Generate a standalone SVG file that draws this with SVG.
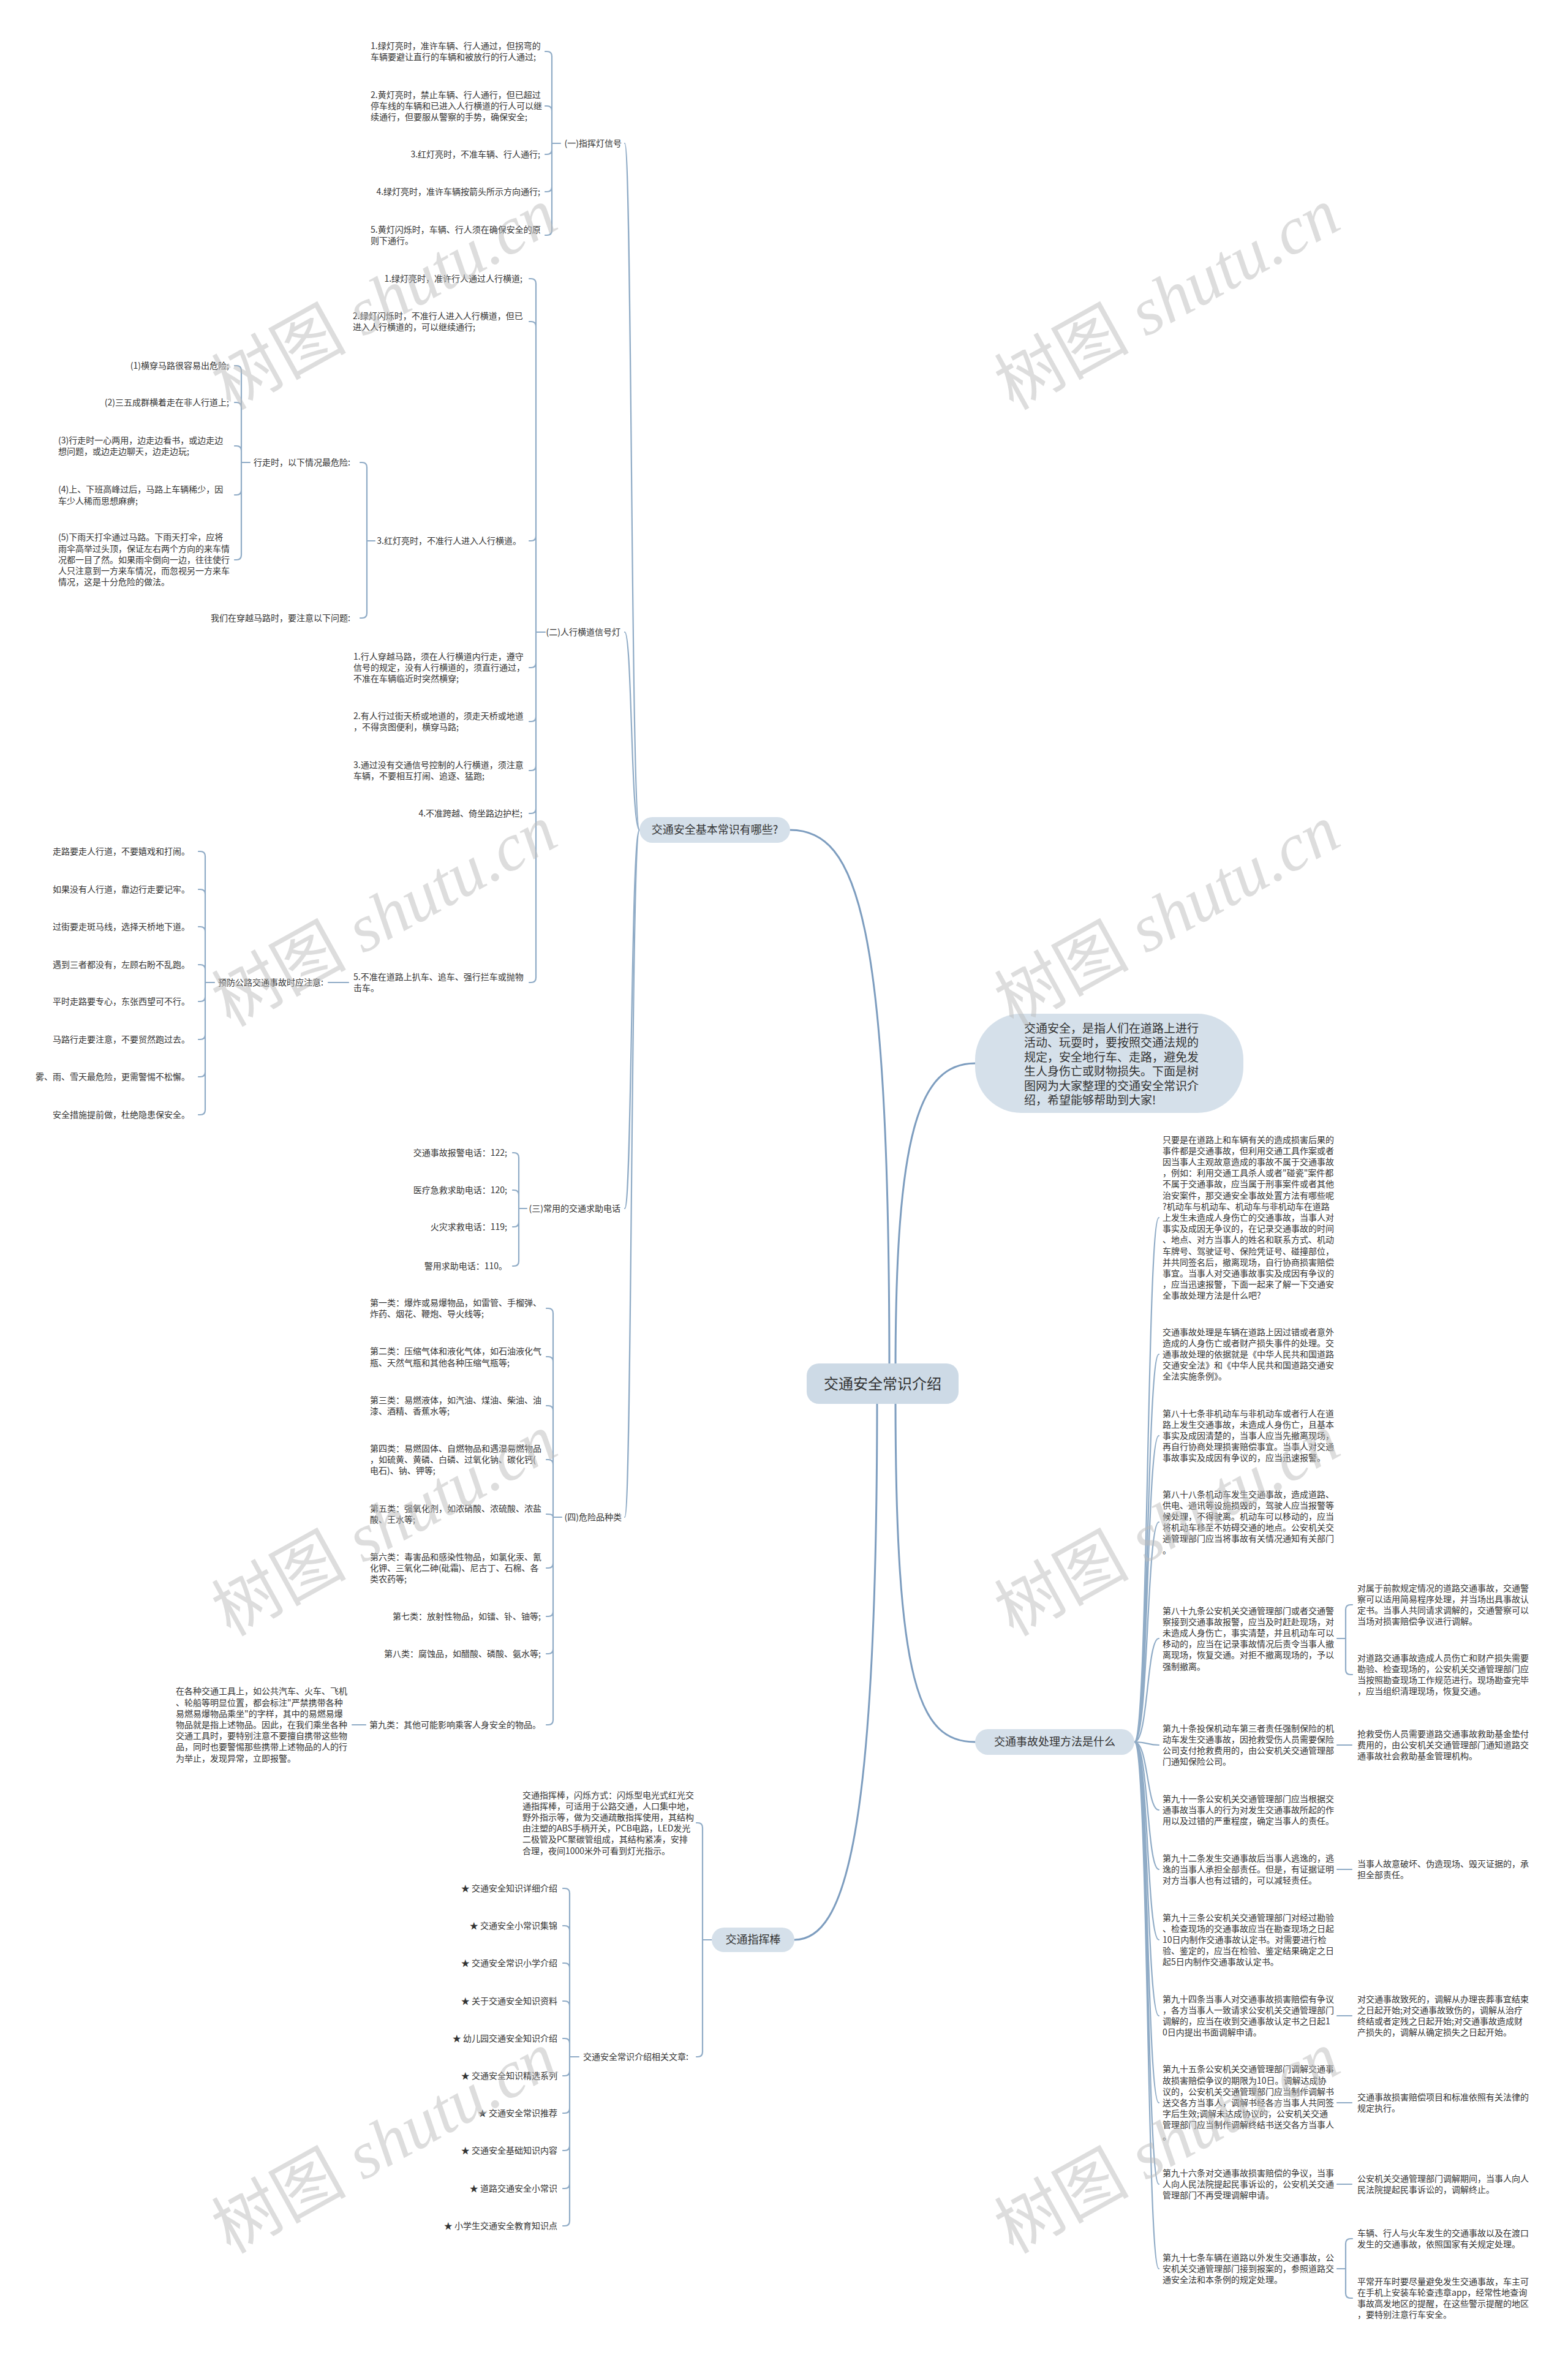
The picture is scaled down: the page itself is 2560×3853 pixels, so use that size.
<svg xmlns="http://www.w3.org/2000/svg" width="2560" height="3853" viewBox="0 0 2560 3853">
<style>
.t{font-family:"Noto Sans CJK SC","Liberation Sans",sans-serif;font-size:14px;fill:#333}
.e{text-anchor:end}
.b{fill:#d5e0ea}
.bt{font-family:"Noto Sans CJK SC","Liberation Sans",sans-serif;font-size:18px;fill:#333;text-anchor:middle}
.c{fill:none;stroke:#8fabc6;stroke-width:2.2;stroke-linecap:round}
.m{fill:none;stroke:#7d9dbf;stroke-width:3;stroke-linecap:round}
.wm{font-family:"Liberation Serif","Noto Sans CJK SC",serif;font-size:110px;fill:#bbbbbb;fill-opacity:0.5;text-anchor:middle}
</style>
<rect width="2560" height="3853" fill="#ffffff"/>
<g id="connectors">
<path class="m" d="M1452 2240C1452 1500 1400 1355 1290 1355"/>
<path class="m" d="M1462 2240C1462 1850 1500 1736 1592 1736"/>
<path class="m" d="M1462 2280C1462 2750 1500 2844 1592 2844"/>
<path class="m" d="M1432 2280C1432 3000 1380 3167 1297 3167"/>
<path class="c" d="M1044 1355C1030 1355 1032 234 1020 234"/>
<path class="c" d="M1044 1355C1030 1355 1032 1032 1020 1032"/>
<path class="c" d="M1044 1355C1030 1355 1032 1973 1020 1973"/>
<path class="c" d="M1044 1355C1030 1355 1032 2477 1020 2477"/>
<path class="c" d="M915 234H901M901 234V92Q901 84 893 84H890M901 234V181Q901 173 893 173H890M901 234V244Q901 252 893 252H890M901 234V305Q901 313 893 313H890M901 234V376Q901 384 893 384H890"/>
<path class="c" d="M890 1032H875M875 1032V463Q875 455 867 455H864M875 1032V533Q875 525 867 525H864M875 1032V875Q875 883 867 883H864M875 1032V1082Q875 1090 867 1090H864M875 1032V1170Q875 1178 867 1178H864M875 1032V1250Q875 1258 867 1258H864M875 1032V1320Q875 1328 867 1328H864M875 1032V1596Q875 1604 867 1604H864"/>
<path class="c" d="M612 883H599M599 883V763Q599 755 591 755H588M599 883V1001Q599 1009 591 1009H588"/>
<path class="c" d="M408 755H394M394 755V605Q394 597 386 597H383M394 755V665Q394 657 386 657H383M394 755V736Q394 728 386 728H383M394 755V800Q394 808 386 808H383M394 755V906Q394 914 386 914H383"/>
<path class="c" d="M569 1604H536"/>
<path class="c" d="M350 1604H335M335 1604V1398Q335 1390 327 1390H324M335 1604V1460Q335 1452 327 1452H324M335 1604V1521Q335 1513 327 1513H324M335 1604V1583Q335 1575 327 1575H324M335 1604V1627Q335 1635 327 1635H324M335 1604V1689Q335 1697 327 1697H324M335 1604V1750Q335 1758 327 1758H324M335 1604V1812Q335 1820 327 1820H324"/>
<path class="c" d="M860 1973H847M847 1973V1890Q847 1882 839 1882H837M847 1973V1951Q847 1943 839 1943H837M847 1973V1995Q847 2003 839 2003H837M847 1973V2059Q847 2067 839 2067H837"/>
<path class="c" d="M917 2477H903M903 2477V2144Q903 2136 895 2136H892M903 2477V2223Q903 2215 895 2215H892M903 2477V2303Q903 2295 895 2295H892M903 2477V2391Q903 2383 895 2383H892M903 2477C903 2473 900 2472 892 2472M903 2477V2552Q903 2560 895 2560H892M903 2477V2631Q903 2639 895 2639H892M903 2477V2692Q903 2700 895 2700H892M903 2477V2808Q903 2816 895 2816H892"/>
<path class="c" d="M597 2816H575"/>
<path class="c" d="M1162 3167H1147M1147 3167V2984Q1147 2976 1139 2976H1137M1147 3167V3350Q1147 3358 1139 3358H1137"/>
<path class="c" d="M945 3358H930M930 3358V3091Q930 3083 922 3083H919M930 3358V3152Q930 3144 922 3144H919M930 3358V3213Q930 3205 922 3205H919M930 3358V3275Q930 3267 922 3267H919M930 3358V3336Q930 3328 922 3328H919M930 3358V3381Q930 3389 922 3389H919M930 3358V3442Q930 3450 922 3450H919M930 3358V3503Q930 3511 922 3511H919M930 3358V3565Q930 3573 922 3573H919M930 3358V3626Q930 3634 922 3634H919"/>
<path class="c" d="M1852 2844C1875 2844 1872 1988 1892 1988M1852 2844C1875 2844 1872 2211 1892 2211M1852 2844C1875 2844 1872 2344 1892 2344M1852 2844C1875 2844 1872 2485 1892 2485M1852 2844C1875 2844 1872 2675 1892 2675M1852 2844C1875 2844 1872 2849 1892 2849M1852 2844C1875 2844 1872 2955 1892 2955M1852 2844C1875 2844 1872 3052 1892 3052M1852 2844C1875 2844 1872 3167 1892 3167M1852 2844C1875 2844 1872 3291 1892 3291M1852 2844C1875 2844 1872 3433 1892 3433M1852 2844C1875 2844 1872 3566 1892 3566M1852 2844C1875 2844 1872 3704 1892 3704"/>
<path class="c" d="M2183 2675H2197M2197 2675V2628Q2197 2620 2205 2620H2208M2197 2675V2726Q2197 2734 2205 2734H2208"/>
<path class="c" d="M2183 2849H2207M2183 3052H2207M2183 3291H2207M2183 3433H2207M2183 3566H2207"/>
<path class="c" d="M2183 3704H2197M2197 3704V3663Q2197 3655 2205 3655H2208M2197 3704V3744Q2197 3752 2205 3752H2208"/>
</g>
<g id="n-root"><rect x="1317" y="2226" width="248" height="66" rx="20" fill="#cddae6"/><text x="1441" y="2268" style="font-family:'Noto Sans CJK SC','Liberation Sans',sans-serif;font-size:24px;fill:#333;text-anchor:middle">交通安全常识介绍</text></g>
<g id="n-intro"><rect class="b" x="1592" y="1655" width="438" height="162" rx="75"/><text class="t" style="font-size:19px" x="1672" y="1686"><tspan x="1672" dy="0">交通安全，是指人们在道路上进行</tspan><tspan x="1672" dy="23.4">活动、玩耍时，要按照交通法规的</tspan><tspan x="1672" dy="23.4">规定，安全地行车、走路，避免发</tspan><tspan x="1672" dy="23.4">生人身伤亡或财物损失。下面是树</tspan><tspan x="1672" dy="23.4">图网为大家整理的交通安全常识介</tspan><tspan x="1672" dy="23.4">绍，希望能够帮助到大家!</tspan></text></g>
<g id="n-basic"><rect class="b" x="1044" y="1334" width="246" height="42" rx="21"/><text class="bt" x="1167" y="1361">交通安全基本常识有哪些?</text></g>
<g id="n-accident"><rect class="b" x="1592" y="2823" width="260" height="42" rx="21"/><text class="bt" x="1722" y="2850">交通事故处理方法是什么</text></g>
<g id="n-baton"><rect class="b" x="1162" y="3147" width="135" height="40" rx="20"/><text class="bt" x="1229.5" y="3173">交通指挥棒</text></g>
<g id="n-s1"><text class="t e" x="1015" y="239">(一)指挥灯信号</text></g>
<g id="n-s1-1"><text class="t" x="605" y="79.9"><tspan x="605" dy="0">1.绿灯亮时，准许车辆、行人通过，但拐弯的</tspan><tspan x="605" dy="18.2">车辆要避让直行的车辆和被放行的行人通过;</tspan></text></g>
<g id="n-s1-2"><text class="t" x="605" y="159.8"><tspan x="605" dy="0">2.黄灯亮时，禁止车辆、行人通行，但已超过</tspan><tspan x="605" dy="18.2">停车线的车辆和已进入人行横道的行人可以继</tspan><tspan x="605" dy="18.2">续通行，但要服从警察的手势，确保安全;</tspan></text></g>
<g id="n-s1-3"><text class="t e" x="882" y="257">3.红灯亮时，不准车辆、行人通行;</text></g>
<g id="n-s1-4"><text class="t e" x="882" y="318">4.绿灯亮时，准许车辆按箭头所示方向通行;</text></g>
<g id="n-s1-5"><text class="t" x="605" y="379.9"><tspan x="605" dy="0">5.黄灯闪烁时，车辆、行人须在确保安全的原</tspan><tspan x="605" dy="18.2">则下通行。</tspan></text></g>
<g id="n-s2"><text class="t e" x="1013" y="1037">(二)人行横道信号灯</text></g>
<g id="n-s2-1"><text class="t e" x="853" y="460">1.绿灯亮时，准许行人通过人行横道;</text></g>
<g id="n-s2-2"><text class="t" x="576" y="520.9"><tspan x="576" dy="0">2.绿灯闪烁时，不准行人进入人行横道，但已</tspan><tspan x="576" dy="18.2">进入人行横道的，可以继续通行;</tspan></text></g>
<g id="n-s2-3"><text class="t e" x="851" y="888">3.红灯亮时，不准行人进入人行横道。</text></g>
<g id="n-walk"><text class="t e" x="572" y="760">行走时，以下情况最危险:</text></g>
<g id="n-cross"><text class="t e" x="572" y="1014">我们在穿越马路时，要注意以下问题:</text></g>
<g id="n-w1"><text class="t e" x="374" y="602">(1)横穿马路很容易出危险;</text></g>
<g id="n-w2"><text class="t e" x="374" y="662">(2)三五成群横着走在非人行道上;</text></g>
<g id="n-w3"><text class="t" x="95" y="723.9"><tspan x="95" dy="0">(3)行走时一心两用，边走边看书，或边走边</tspan><tspan x="95" dy="18.2">想问题，或边走边聊天，边走边玩;</tspan></text></g>
<g id="n-w4"><text class="t" x="95" y="804.4"><tspan x="95" dy="0">(4)上、下班高峰过后，马路上车辆稀少，因</tspan><tspan x="95" dy="18.2">车少人稀而思想麻痹;</tspan></text></g>
<g id="n-w5"><text class="t" x="95" y="882.3"><tspan x="95" dy="0">(5)下雨天打伞通过马路。下雨天打伞，应将</tspan><tspan x="95" dy="18.2">雨伞高举过头顶，保证左右两个方向的来车情</tspan><tspan x="95" dy="18.2">况都一目了然。如果雨伞倒向一边，往往使行</tspan><tspan x="95" dy="18.2">人只注意到一方来车情况，而忽视另一方来车</tspan><tspan x="95" dy="18.2">情况，这是十分危险的做法。</tspan></text></g>
<g id="n-s2-4"><text class="t" x="577" y="1076.8"><tspan x="577" dy="0">1.行人穿越马路，须在人行横道内行走，遵守</tspan><tspan x="577" dy="18.2">信号的规定，没有人行横道的，须直行通过，</tspan><tspan x="577" dy="18.2">不准在车辆临近时突然横穿;</tspan></text></g>
<g id="n-s2-5"><text class="t" x="577" y="1173.9"><tspan x="577" dy="0">2.有人行过街天桥或地道的，须走天桥或地道</tspan><tspan x="577" dy="18.2">，不得贪图便利，横穿马路;</tspan></text></g>
<g id="n-s2-6"><text class="t" x="577" y="1253.9"><tspan x="577" dy="0">3.通过没有交通信号控制的人行横道，须注意</tspan><tspan x="577" dy="18.2">车辆，不要相互打闹、追逐、猛跑;</tspan></text></g>
<g id="n-s2-7"><text class="t e" x="853" y="1333">4.不准跨越、倚坐路边护栏;</text></g>
<g id="n-s2-8"><text class="t" x="577" y="1599.9"><tspan x="577" dy="0">5.不准在道路上扒车、追车、强行拦车或抛物</tspan><tspan x="577" dy="18.2">击车。</tspan></text></g>
<g id="n-prevent"><text class="t e" x="528" y="1609">预防公路交通事故时应注意:</text></g>
<g id="n-p1"><text class="t e" x="310" y="1395">走路要走人行道，不要嬉戏和打闹。</text></g>
<g id="n-p2"><text class="t e" x="310" y="1457">如果没有人行道，靠边行走要记牢。</text></g>
<g id="n-p3"><text class="t e" x="310" y="1518">过街要走斑马线，选择天桥地下道。</text></g>
<g id="n-p4"><text class="t e" x="310" y="1580">遇到三者都没有，左顾右盼不乱跑。</text></g>
<g id="n-p5"><text class="t e" x="310" y="1640">平时走路要专心，东张西望可不行。</text></g>
<g id="n-p6"><text class="t e" x="310" y="1702">马路行走要注意，不要贸然跑过去。</text></g>
<g id="n-p7"><text class="t e" x="310" y="1763">雾、雨、雪天最危险，更需警惕不松懈。</text></g>
<g id="n-p8"><text class="t e" x="310" y="1825">安全措施提前做，杜绝隐患保安全。</text></g>
<g id="n-s3"><text class="t e" x="1013" y="1978">(三)常用的交通求助电话</text></g>
<g id="n-s3-1"><text class="t e" x="828" y="1887">交通事故报警电话：122;</text></g>
<g id="n-s3-2"><text class="t e" x="828" y="1948">医疗急救求助电话：120;</text></g>
<g id="n-s3-3"><text class="t e" x="828" y="2008">火灾求救电话：119;</text></g>
<g id="n-s3-4"><text class="t e" x="828" y="2072">警用求助电话：110。</text></g>
<g id="n-s4"><text class="t e" x="1015" y="2482">(四)危险品种类</text></g>
<g id="n-s4-1"><text class="t" x="604" y="2131.9"><tspan x="604" dy="0">第一类：爆炸或易爆物品，如雷管、手榴弹、</tspan><tspan x="604" dy="18.2">炸药、烟花、鞭炮、导火线等;</tspan></text></g>
<g id="n-s4-2"><text class="t" x="604" y="2211.4"><tspan x="604" dy="0">第二类：压缩气体和液化气体，如石油液化气</tspan><tspan x="604" dy="18.2">瓶、天然气瓶和其他各种压缩气瓶等;</tspan></text></g>
<g id="n-s4-3"><text class="t" x="604" y="2290.9"><tspan x="604" dy="0">第三类：易燃液体，如汽油、煤油、柴油、油</tspan><tspan x="604" dy="18.2">漆、酒精、香蕉水等;</tspan></text></g>
<g id="n-s4-4"><text class="t" x="604" y="2369.8"><tspan x="604" dy="0">第四类：易燃固体、自燃物品和遇湿易燃物品</tspan><tspan x="604" dy="18.2">，如硫黄、黄磷、白磷、过氧化钠、碳化钙(</tspan><tspan x="604" dy="18.2">电石)、钠、钾等;</tspan></text></g>
<g id="n-s4-5"><text class="t" x="604" y="2467.9"><tspan x="604" dy="0">第五类：强氧化剂，如浓硝酸、浓硫酸、浓盐</tspan><tspan x="604" dy="18.2">酸、王水等;</tspan></text></g>
<g id="n-s4-6"><text class="t" x="604" y="2546.8"><tspan x="604" dy="0">第六类：毒害品和感染性物品，如氯化汞、氰</tspan><tspan x="604" dy="18.2">化钾、三氧化二砷(砒霜)、尼古丁、石棉、各</tspan><tspan x="604" dy="18.2">类农药等;</tspan></text></g>
<g id="n-s4-7"><text class="t e" x="883" y="2644">第七类：放射性物品，如镭、钋、铀等;</text></g>
<g id="n-s4-8"><text class="t e" x="883" y="2705">第八类：腐蚀品，如醋酸、磷酸、氨水等;</text></g>
<g id="n-s4-9"><text class="t e" x="883" y="2821">第九类：其他可能影响乘客人身安全的物品。</text></g>
<g id="n-s4-9a"><text class="t" x="287" y="2766.4"><tspan x="287" dy="0">在各种交通工具上，如公共汽车、火车、飞机</tspan><tspan x="287" dy="18.2">、轮船等明显位置，都会标注"严禁携带各种</tspan><tspan x="287" dy="18.2">易燃易爆物品乘坐"的字样，其中的易燃易爆</tspan><tspan x="287" dy="18.2">物品就是指上述物品。因此，在我们乘坐各种</tspan><tspan x="287" dy="18.2">交通工具时，要特别注意不要擅自携带这些物</tspan><tspan x="287" dy="18.2">品，同时也要警惕那些携带上述物品的人的行</tspan><tspan x="287" dy="18.2">为举止，发现异常，立即报警。</tspan></text></g>
<g id="n-b1"><text class="t" x="853" y="2935.5"><tspan x="853" dy="0">交通指挥棒，闪烁方式：闪烁型电光式红光交</tspan><tspan x="853" dy="18.2">通指挥棒，可适用于公路交通，人口集中地，</tspan><tspan x="853" dy="18.2">野外指示等，做为交通疏散指挥使用，其结构</tspan><tspan x="853" dy="18.2">由注塑的ABS手柄开关，PCB电路，LED发光</tspan><tspan x="853" dy="18.2">二极管及PC聚碳管组成，其结构紧凑，安排</tspan><tspan x="853" dy="18.2">合理，夜间1000米外可看到灯光指示。</tspan></text></g>
<g id="n-b2"><text class="t e" x="1124" y="3363">交通安全常识介绍相关文章:</text></g>
<g id="n-r1"><text class="t e" x="910" y="3088">★ 交通安全知识详细介绍</text></g>
<g id="n-r2"><text class="t e" x="910" y="3149">★ 交通安全小常识集锦</text></g>
<g id="n-r3"><text class="t e" x="910" y="3210">★ 交通安全常识小学介绍</text></g>
<g id="n-r4"><text class="t e" x="910" y="3272">★ 关于交通安全知识资料</text></g>
<g id="n-r5"><text class="t e" x="910" y="3333">★ 幼儿园交通安全知识介绍</text></g>
<g id="n-r6"><text class="t e" x="910" y="3394">★ 交通安全知识精选系列</text></g>
<g id="n-r7"><text class="t e" x="910" y="3455">★ 交通安全常识推荐</text></g>
<g id="n-r8"><text class="t e" x="910" y="3516">★ 交通安全基础知识内容</text></g>
<g id="n-r9"><text class="t e" x="910" y="3578">★ 道路交通安全小常识</text></g>
<g id="n-r10"><text class="t e" x="910" y="3639">★ 小学生交通安全教育知识点</text></g>
<g id="n-a1"><text class="t" x="1898" y="1865.6"><tspan x="1898" dy="0">只要是在道路上和车辆有关的造成损害后果的</tspan><tspan x="1898" dy="18.2">事件都是交通事故，但利用交通工具作案或者</tspan><tspan x="1898" dy="18.2">因当事人主观故意造成的事故不属于交通事故</tspan><tspan x="1898" dy="18.2">，例如：利用交通工具杀人或者"碰瓷"案件都</tspan><tspan x="1898" dy="18.2">不属于交通事故，应当属于刑事案件或者其他</tspan><tspan x="1898" dy="18.2">治安案件，那交通安全事故处置方法有哪些呢</tspan><tspan x="1898" dy="18.2">?机动车与机动车、机动车与非机动车在道路</tspan><tspan x="1898" dy="18.2">上发生未造成人身伤亡的交通事故，当事人对</tspan><tspan x="1898" dy="18.2">事实及成因无争议的，在记录交通事故的时间</tspan><tspan x="1898" dy="18.2">、地点、对方当事人的姓名和联系方式、机动</tspan><tspan x="1898" dy="18.2">车牌号、驾驶证号、保险凭证号、碰撞部位，</tspan><tspan x="1898" dy="18.2">并共同签名后，撤离现场，自行协商损害赔偿</tspan><tspan x="1898" dy="18.2">事宜。当事人对交通事故事实及成因有争议的</tspan><tspan x="1898" dy="18.2">，应当迅速报警，下面一起来了解一下交通安</tspan><tspan x="1898" dy="18.2">全事故处理方法是什么吧?</tspan></text></g>
<g id="n-a2"><text class="t" x="1898" y="2179.6"><tspan x="1898" dy="0">交通事故处理是车辆在道路上因过错或者意外</tspan><tspan x="1898" dy="18.2">造成的人身伤亡或者财产损失事件的处理。交</tspan><tspan x="1898" dy="18.2">通事故处理的依据就是《中华人民共和国道路</tspan><tspan x="1898" dy="18.2">交通安全法》和《中华人民共和国道路交通安</tspan><tspan x="1898" dy="18.2">全法实施条例》。</tspan></text></g>
<g id="n-a3"><text class="t" x="1898" y="2312.6"><tspan x="1898" dy="0">第八十七条非机动车与非机动车或者行人在道</tspan><tspan x="1898" dy="18.2">路上发生交通事故，未造成人身伤亡，且基本</tspan><tspan x="1898" dy="18.2">事实及成因清楚的，当事人应当先撤离现场，</tspan><tspan x="1898" dy="18.2">再自行协商处理损害赔偿事宜。当事人对交通</tspan><tspan x="1898" dy="18.2">事故事实及成因有争议的，应当迅速报警。</tspan></text></g>
<g id="n-a4"><text class="t" x="1898" y="2444.5"><tspan x="1898" dy="0">第八十八条机动车发生交通事故，造成道路、</tspan><tspan x="1898" dy="18.2">供电、通讯等设施损毁的，驾驶人应当报警等</tspan><tspan x="1898" dy="18.2">候处理，不得驶离。机动车可以移动的，应当</tspan><tspan x="1898" dy="18.2">将机动车移至不妨碍交通的地点。公安机关交</tspan><tspan x="1898" dy="18.2">通管理部门应当将事故有关情况通知有关部门</tspan><tspan x="1898" dy="18.2">。</tspan></text></g>
<g id="n-a5"><text class="t" x="1898" y="2634.5"><tspan x="1898" dy="0">第八十九条公安机关交通管理部门或者交通警</tspan><tspan x="1898" dy="18.2">察接到交通事故报警，应当及时赶赴现场，对</tspan><tspan x="1898" dy="18.2">未造成人身伤亡，事实清楚，并且机动车可以</tspan><tspan x="1898" dy="18.2">移动的，应当在记录事故情况后责令当事人撤</tspan><tspan x="1898" dy="18.2">离现场，恢复交通。对拒不撤离现场的，予以</tspan><tspan x="1898" dy="18.2">强制撤离。</tspan></text></g>
<g id="n-a5a"><text class="t" x="2216" y="2597.7"><tspan x="2216" dy="0">对属于前款规定情况的道路交通事故，交通警</tspan><tspan x="2216" dy="18.2">察可以适用简易程序处理，并当场出具事故认</tspan><tspan x="2216" dy="18.2">定书。当事人共同请求调解的，交通警察可以</tspan><tspan x="2216" dy="18.2">当场对损害赔偿争议进行调解。</tspan></text></g>
<g id="n-a5b"><text class="t" x="2216" y="2711.7"><tspan x="2216" dy="0">对道路交通事故造成人员伤亡和财产损失需要</tspan><tspan x="2216" dy="18.2">勘验、检查现场的，公安机关交通管理部门应</tspan><tspan x="2216" dy="18.2">当按照勘查现场工作规范进行。现场勘查完毕</tspan><tspan x="2216" dy="18.2">，应当组织清理现场，恢复交通。</tspan></text></g>
<g id="n-a6"><text class="t" x="1898" y="2826.7"><tspan x="1898" dy="0">第九十条投保机动车第三者责任强制保险的机</tspan><tspan x="1898" dy="18.2">动车发生交通事故，因抢救受伤人员需要保险</tspan><tspan x="1898" dy="18.2">公司支付抢救费用的，由公安机关交通管理部</tspan><tspan x="1898" dy="18.2">门通知保险公司。</tspan></text></g>
<g id="n-a6a"><text class="t" x="2216" y="2835.8"><tspan x="2216" dy="0">抢救受伤人员需要道路交通事故救助基金垫付</tspan><tspan x="2216" dy="18.2">费用的，由公安机关交通管理部门通知道路交</tspan><tspan x="2216" dy="18.2">通事故社会救助基金管理机构。</tspan></text></g>
<g id="n-a7"><text class="t" x="1898" y="2941.8"><tspan x="1898" dy="0">第九十一条公安机关交通管理部门应当根据交</tspan><tspan x="1898" dy="18.2">通事故当事人的行为对发生交通事故所起的作</tspan><tspan x="1898" dy="18.2">用以及过错的严重程度，确定当事人的责任。</tspan></text></g>
<g id="n-a8"><text class="t" x="1898" y="3038.8"><tspan x="1898" dy="0">第九十二条发生交通事故后当事人逃逸的，逃</tspan><tspan x="1898" dy="18.2">逸的当事人承担全部责任。但是，有证据证明</tspan><tspan x="1898" dy="18.2">对方当事人也有过错的，可以减轻责任。</tspan></text></g>
<g id="n-a8a"><text class="t" x="2216" y="3047.9"><tspan x="2216" dy="0">当事人故意破坏、伪造现场、毁灭证据的，承</tspan><tspan x="2216" dy="18.2">担全部责任。</tspan></text></g>
<g id="n-a9"><text class="t" x="1898" y="3135.6"><tspan x="1898" dy="0">第九十三条公安机关交通管理部门对经过勘验</tspan><tspan x="1898" dy="18.2">、检查现场的交通事故应当在勘查现场之日起</tspan><tspan x="1898" dy="18.2">10日内制作交通事故认定书。对需要进行检</tspan><tspan x="1898" dy="18.2">验、鉴定的，应当在检验、鉴定结果确定之日</tspan><tspan x="1898" dy="18.2">起5日内制作交通事故认定书。</tspan></text></g>
<g id="n-a10"><text class="t" x="1898" y="3268.7"><tspan x="1898" dy="0">第九十四条当事人对交通事故损害赔偿有争议</tspan><tspan x="1898" dy="18.2">，各方当事人一致请求公安机关交通管理部门</tspan><tspan x="1898" dy="18.2">调解的，应当在收到交通事故认定书之日起1</tspan><tspan x="1898" dy="18.2">0日内提出书面调解申请。</tspan></text></g>
<g id="n-a10a"><text class="t" x="2216" y="3268.7"><tspan x="2216" dy="0">对交通事故致死的，调解从办理丧葬事宜结束</tspan><tspan x="2216" dy="18.2">之日起开始;对交通事故致伤的，调解从治疗</tspan><tspan x="2216" dy="18.2">终结或者定残之日起开始;对交通事故造成财</tspan><tspan x="2216" dy="18.2">产损失的，调解从确定损失之日起开始。</tspan></text></g>
<g id="n-a11"><text class="t" x="1898" y="3383.4"><tspan x="1898" dy="0">第九十五条公安机关交通管理部门调解交通事</tspan><tspan x="1898" dy="18.2">故损害赔偿争议的期限为10日。调解达成协</tspan><tspan x="1898" dy="18.2">议的，公安机关交通管理部门应当制作调解书</tspan><tspan x="1898" dy="18.2">送交各方当事人，调解书经各方当事人共同签</tspan><tspan x="1898" dy="18.2">字后生效;调解未达成协议的，公安机关交通</tspan><tspan x="1898" dy="18.2">管理部门应当制作调解终结书送交各方当事人</tspan><tspan x="1898" dy="18.2">。</tspan></text></g>
<g id="n-a11a"><text class="t" x="2216" y="3428.9"><tspan x="2216" dy="0">交通事故损害赔偿项目和标准依照有关法律的</tspan><tspan x="2216" dy="18.2">规定执行。</tspan></text></g>
<g id="n-a12"><text class="t" x="1898" y="3552.8"><tspan x="1898" dy="0">第九十六条对交通事故损害赔偿的争议，当事</tspan><tspan x="1898" dy="18.2">人向人民法院提起民事诉讼的，公安机关交通</tspan><tspan x="1898" dy="18.2">管理部门不再受理调解申请。</tspan></text></g>
<g id="n-a12a"><text class="t" x="2216" y="3561.9"><tspan x="2216" dy="0">公安机关交通管理部门调解期间，当事人向人</tspan><tspan x="2216" dy="18.2">民法院提起民事诉讼的，调解终止。</tspan></text></g>
<g id="n-a13"><text class="t" x="1898" y="3690.8"><tspan x="1898" dy="0">第九十七条车辆在道路以外发生交通事故，公</tspan><tspan x="1898" dy="18.2">安机关交通管理部门接到报案的，参照道路交</tspan><tspan x="1898" dy="18.2">通安全法和本条例的规定处理。</tspan></text></g>
<g id="n-a13a"><text class="t" x="2216" y="3650.9"><tspan x="2216" dy="0">车辆、行人与火车发生的交通事故以及在渡口</tspan><tspan x="2216" dy="18.2">发生的交通事故，依照国家有关规定处理。</tspan></text></g>
<g id="n-a13b"><text class="t" x="2216" y="3729.7"><tspan x="2216" dy="0">平常开车时要尽量避免发生交通事故，车主可</tspan><tspan x="2216" dy="18.2">在手机上安装车轮查违章app，经常性地查询</tspan><tspan x="2216" dy="18.2">事故高发地区的提醒，在这些警示提醒的地区</tspan><tspan x="2216" dy="18.2">，要特别注意行车安全。</tspan></text></g>
<g id="watermark">
<text class="wm" transform="translate(646 521) rotate(-29)">树图 <tspan font-style="italic">shutu.cn</tspan></text>
<text class="wm" transform="translate(1924 521) rotate(-29)">树图 <tspan font-style="italic">shutu.cn</tspan></text>
<text class="wm" transform="translate(646 1528) rotate(-29)">树图 <tspan font-style="italic">shutu.cn</tspan></text>
<text class="wm" transform="translate(1924 1528) rotate(-29)">树图 <tspan font-style="italic">shutu.cn</tspan></text>
<text class="wm" transform="translate(646 2523) rotate(-29)">树图 <tspan font-style="italic">shutu.cn</tspan></text>
<text class="wm" transform="translate(1924 2523) rotate(-29)">树图 <tspan font-style="italic">shutu.cn</tspan></text>
<text class="wm" transform="translate(646 3531) rotate(-29)">树图 <tspan font-style="italic">shutu.cn</tspan></text>
<text class="wm" transform="translate(1924 3531) rotate(-29)">树图 <tspan font-style="italic">shutu.cn</tspan></text>
</g>
</svg>
